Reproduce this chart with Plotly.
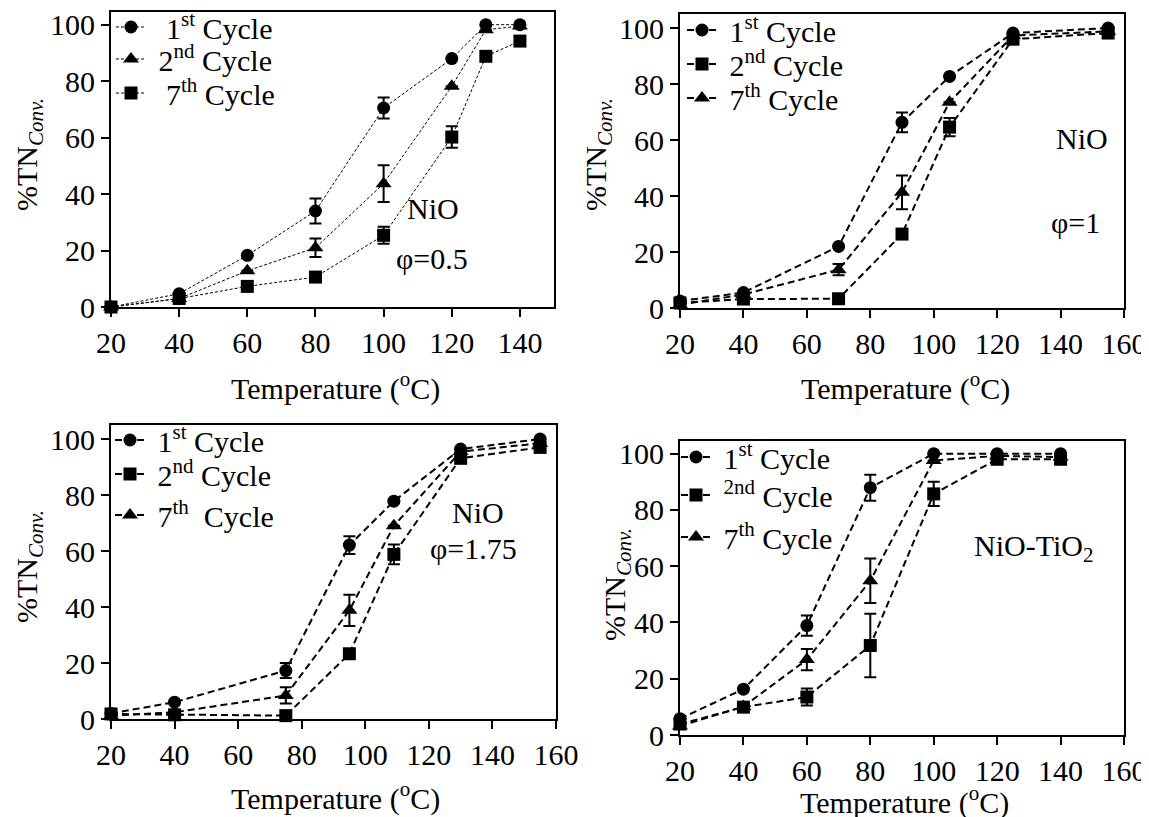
import plotly.graph_objects as go

FONT = "Liberation Serif, Times New Roman, Times, serif"
W, H = 1149, 817
OFF = 8  # the page body margin shifts the figure by this many pixels

# ---------------- data ----------------
# Panel A: NiO, phi = 0.5
a_x = [20, 40, 60, 80, 100, 120, 130, 140]
a_c1 = [0, 4.7, 18.3, 34.0, 70.5, 88.0, 100, 100]
a_c1_err = [None, None, None, 4.4, 3.7, None, None, None]
a_c2 = [0, 3.0, 12.8, 21.0, 43.7, 78.2, 98.2, 99.5]
a_c2_err = [None, None, None, 3.3, 6.5, None, None, None]
a_c7 = [0, 3.0, 7.3, 10.6, 25.4, 60.2, 88.8, 94.2]
a_c7_err = [None, None, None, None, 3.0, 3.8, None, None]

# Panel B: NiO, phi = 1
b_x = [20, 40, 70, 90, 105, 125, 155]
b_c1 = [2.5, 5.5, 22.0, 66.3, 82.7, 98.2, 100]
b_c1_err = [None, None, None, 3.5, None, None, None]
b_c2 = [1.8, 3.2, 3.3, 26.4, 64.6, 96.0, 98.2]
b_c2_err = [None, None, 1.5, 1.5, 3.3, None, None]
b_c7 = [1.2, 4.8, 13.7, 41.3, 73.5, 97.3, 98.8]
b_c7_err = [None, None, 2.0, 6.0, None, None, None]

# Panel C: NiO, phi = 1.75
c_x = [20, 40, 75, 95, 109, 130, 155]
c_c1 = [2.0, 6.0, 17.3, 62.1, 77.8, 96.4, 100]
c_c1_err = [None, None, 2.7, 3.2, None, None, None]
c_c2 = [1.8, 1.5, 1.2, 23.3, 58.8, 93.1, 97.0]
c_c2_err = [None, None, None, None, 3.5, None, None]
c_c7 = [1.2, 2.4, 8.4, 38.8, 69.0, 95.5, 98.5]
c_c7_err = [None, None, 2.9, 5.6, None, None, None]

# Panel D: NiO-TiO2
d_x = [20, 40, 60, 80, 100, 120, 140]
d_c1 = [5.8, 16.3, 38.9, 87.9, 100, 100, 100]
d_c1_err = [None, None, 3.6, 4.6, None, None, None]
d_c2 = [3.9, 9.9, 13.5, 31.8, 85.7, 98.0, 98.0]
d_c2_err = [None, None, 3.0, 11.3, 4.3, None, None]
d_c7 = [3.2, 10.1, 26.8, 54.8, 97.6, 99.2, 98.8]
d_c7_err = [None, None, 3.8, 7.9, None, None, None]

x_ticks_a = [20, 40, 60, 80, 100, 120, 140]
x_ticks_b = [20, 40, 60, 80, 100, 120, 140, 160]
y_ticks = [0, 20, 40, 60, 80, 100]

NB = "\u00a0"

# ---------------- figure ----------------
fig = go.Figure()

legend_pos = {}  # legend id -> (marker x px, row y px) in screen pixels

def add(x, y, err, name, symbol, axis_idx, leg, pos, dash, lw):
    xa = "x" if axis_idx == 1 else f"x{axis_idx}"
    ya = "y" if axis_idx == 1 else f"y{axis_idx}"
    legend_pos[leg] = pos
    fig.add_trace(go.Scatter(
        x=x, y=y, name=name, mode="lines+markers",
        xaxis=xa, yaxis=ya, legend=leg,
        line=dict(color="black", width=lw, dash=dash),
        marker=dict(symbol=symbol, size=13 if symbol != "triangle-up" else 14, color="black"),
        error_y=dict(type="data", array=err, visible=True, color="black",
                     thickness=2, width=6),
        cliponaxis=False,
    ))

dotA = "3px,2px"
dashB = "7px,4px"
add(a_x, a_c1, a_c1_err, NB*2 + "1<sup>st</sup> Cycle", "circle", 1, "legend", (131, 27), dotA, 1)
add(a_x, a_c2, a_c2_err, NB + "2<sup>nd</sup> Cycle", "triangle-up", 1, "legend2", (131, 59), dotA, 1)
add(a_x, a_c7, a_c7_err, NB*2 + "7<sup>th</sup> Cycle", "square", 1, "legend3", (131, 93), dotA, 1)

add(b_x, b_c1, b_c1_err, NB + "1<sup>st</sup> Cycle", "circle", 2, "legend4", (702, 30), dashB, 2)
add(b_x, b_c2, b_c2_err, NB + "2<sup>nd</sup> Cycle", "square", 2, "legend5", (702, 64), dashB, 2)
add(b_x, b_c7, b_c7_err, NB + "7<sup>th</sup> Cycle", "triangle-up", 2, "legend6", (702, 98), dashB, 2)

add(c_x, c_c1, c_c1_err, NB + "1<sup>st</sup> Cycle", "circle", 3, "legend7", (130, 440), dashB, 2)
add(c_x, c_c2, c_c2_err, NB + "2<sup>nd</sup> Cycle", "square", 3, "legend8", (130, 474), dashB, 2)
add(c_x, c_c7, c_c7_err, NB + "7<sup>th</sup>" + NB + " Cycle", "triangle-up", 3, "legend9", (130, 515), dashB, 2)

add(d_x, d_c1, d_c1_err, NB + "1<sup>st</sup> Cycle", "circle", 4, "legend10", (696, 457), dashB, 2)
add(d_x, d_c2, d_c2_err, NB + "<sup>2nd</sup> Cycle", "square", 4, "legend11", (696, 495), dashB, 2)
add(d_x, d_c7, d_c7_err, NB + "7<sup>th</sup> Cycle", "triangle-up", 4, "legend12", (696, 537), dashB, 2)

def px2fx(px):
    return (px - OFF) / W

def py2fy(py):
    return 1 - (py - OFF) / H

# panel geometry in screen pixels: (left, right, top, bottom)
panels = {
    1: (111, 554, 12, 307),
    2: (680, 1124, 14, 308),
    3: (111, 556, 425, 719),
    4: (680, 1124, 441, 735),
}
xranges = {1: [20, 150], 2: [20, 160], 3: [20, 160], 4: [20, 160]}
yranges = {1: [0, 104.5], 2: [0, 105], 3: [0, 105], 4: [0, 104.5]}
xticks = {1: x_ticks_a, 2: x_ticks_b, 3: x_ticks_b, 4: x_ticks_b}

axis_common = dict(
    showline=True, linewidth=2, linecolor="black", mirror=True,
    ticks="outside", ticklen=8, tickwidth=2, tickcolor="black",
    showgrid=False, zeroline=False, automargin=False,
    tickfont=dict(family=FONT, size=30, color="black"),
)

layout = {}
for i, (l, r, t, b) in panels.items():
    xk = "xaxis" if i == 1 else f"xaxis{i}"
    yk = "yaxis" if i == 1 else f"yaxis{i}"
    xa_ref = "x" if i == 1 else f"x{i}"
    ya_ref = "y" if i == 1 else f"y{i}"
    layout[xk] = dict(axis_common, domain=[px2fx(l), px2fx(r)], range=xranges[i],
                      tickvals=xticks[i], anchor=ya_ref)
    layout[yk] = dict(axis_common, domain=[py2fy(b), py2fy(t)], range=yranges[i],
                      tickvals=y_ticks, anchor=xa_ref)

for leg, (mx, my) in legend_pos.items():
    layout[leg] = dict(
        bgcolor="rgba(0,0,0,0)", borderwidth=0,
        font=dict(family=FONT, size=30, color="black"),
        xanchor="left", yanchor="middle", tracegroupgap=0, itemwidth=30,
        x=px2fx(mx - 20), y=py2fy(my),
    )

ann = []
def text(x, y, s, size=30, angle=0):
    ann.append(dict(x=px2fx(x), y=py2fy(y), xref="paper", yref="paper", text=s,
                    showarrow=False, textangle=angle, xanchor="center", yanchor="middle",
                    font=dict(family=FONT, size=size, color="black")))

# axis titles
text(335, 386, "Temperature (<sup>o</sup>C)")
text(905, 386, "Temperature (<sup>o</sup>C)")
text(335, 796, "Temperature (<sup>o</sup>C)")
text(904, 800, "Temperature (<sup>o</sup>C)")
ytitle = "%TN<sub><i>Conv.</i></sub>"
text(29, 155, ytitle, angle=-90)
text(598, 155, ytitle, angle=-90)
text(29, 567, ytitle, angle=-90)
text(617, 585, ytitle, angle=-90)

# panel labels
text(433, 208, "NiO")
text(432, 258, "\u03c6=0.5")
text(1082, 138, "NiO")
text(1075, 223, "\u03c6=1")
text(478, 512, "NiO")
text(473, 548, "\u03c6=1.75")
text(1033, 548, "NiO-TiO<sub>2</sub>")

fig.update_layout(
    width=W, height=H,
    margin=dict(l=0, r=0, t=0, b=0, autoexpand=False),
    plot_bgcolor="white", paper_bgcolor="white",
    font=dict(family=FONT, size=30, color="black"),
    showlegend=True,
    annotations=ann,
    **layout,
)

fig.write_html("out.html")
